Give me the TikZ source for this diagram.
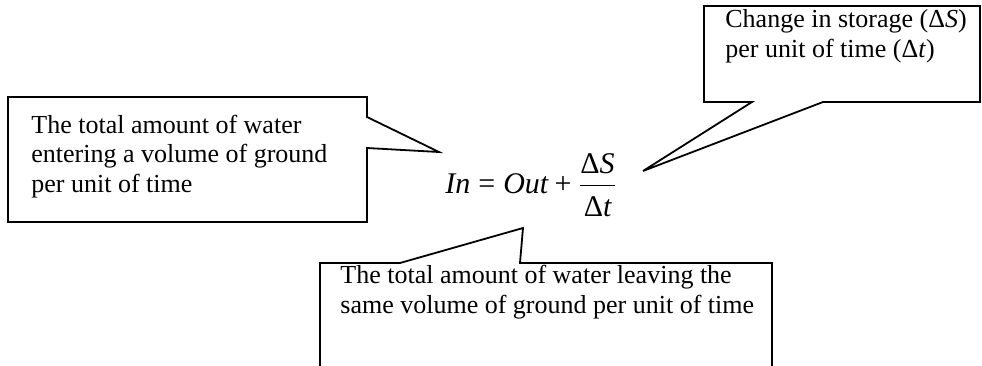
\documentclass[tikz,border=0pt]{standalone}
\usepackage{amsmath}
\usepackage{fontspec}
\setmainfont{Liberation Serif}
\usepackage{tikz}
\usetikzlibrary{calc,positioning}

\begin{document}
\begin{tikzpicture}[x=0.5pt,y=-0.5pt,
  callout/.style={draw=black,line width=0.9pt,line join=miter,fill=none},
  boxtext/.style={anchor=base west,inner sep=0pt,align=left,font=\fontsize{13}{14.7}\selectfont}]
\useasboundingbox (0,0) rectangle (982,365);
% the balance equation
\node[anchor=base west,inner sep=0pt,font=\fontsize{15}{18}\selectfont] (eq) at (445,193)
  {$\textit{In}\mathrel{\text{=}}\textit{Out}\mathbin{\text{+}}\dfrac{\text{Δ}\textit{S}}{\rule{0pt}{13.5pt}\text{Δ}\textit{t}}$};
% tips of the three callouts
\coordinate (intip) at (439,152);
\coordinate (dstip) at (643,171);
\coordinate (outtip) at (523,228);
% left callout: water in (base = last line)
\draw[callout] (8,97) -- (367,97) -- (367,117) -- (intip) -- (367,148) -- (367,222) -- (8,222) -- cycle;
\node[boxtext] (intext) at (31,192) {The total amount of water\\entering a volume of ground\\per unit of time};
% right callout: storage
\draw[callout] (704,6) -- (980,6) -- (980,102) -- (823,102) -- (dstip) -- (752,102) -- (704,102) -- cycle;
\node[boxtext] (dstext) at (725,57) {Change in storage (Δ\textit{S})\\per unit of time (Δ\textit{t})};
% bottom callout: water out
\draw[callout] (320,366) -- (320,263) -- (400,263) -- (outtip) -- (520,263) -- (772,263) -- (772,366);
\node[boxtext] (outtext) at (340,313) {The total amount of water leaving the\\same volume of ground per unit of time};
\end{tikzpicture}
\end{document}
